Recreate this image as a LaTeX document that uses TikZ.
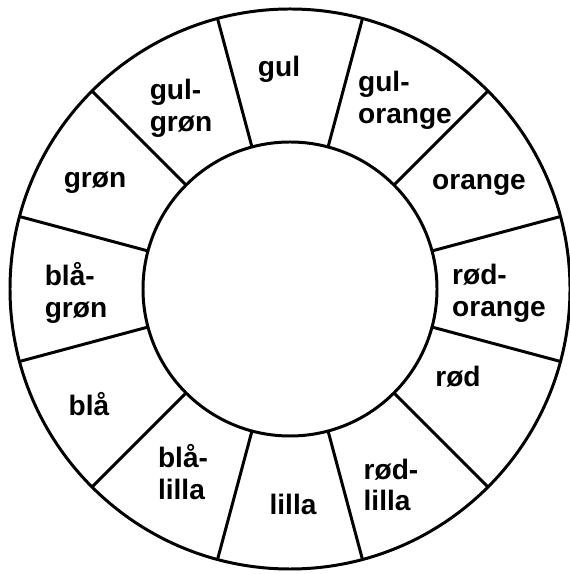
\documentclass[tikz,border=0pt]{standalone}
\usepackage{fontspec}
\setmainfont{Liberation Sans}

\begin{document}
\begin{tikzpicture}[x=0.02cm,y=0.02cm,
    wheel/.style={line width=1.7pt},
    colname/.style={font=\fontsize{16}{18}\selectfont\bfseries,
      align=left,inner sep=0pt}]
    \useasboundingbox (0,0) rectangle (569,574);
    \coordinate (c) at (290,285);
    \draw[wheel] (c) circle (280);
    \draw[wheel] (c) circle (147);
    \foreach \a in {15,45,...,345}
      \draw[wheel,shift={(c)}] (\a:147) -- (\a:280);
    \node[colname] (gul) at (279,505) {gul};
    \node[colname] (gulorange) at (405,474) {gul-\\orange};
    \node[colname] (orange) at (479,389) {orange};
    \node[colname] (rodorange) at (499,281) {rød-\\orange};
    \node[colname] (rod) at (458,197) {rød};
    \node[colname] (rodlilla) at (391,89) {rød-\\lilla};
    \node[colname] (lilla) at (293,70) {lilla};
    \node[colname] (blalilla) at (183,102) {blå-\\lilla};
    \node[colname] (bla) at (89,170) {blå};
    \node[colname] (blagron) at (76,281) {blå-\\grøn};
    \node[colname] (gron) at (95,391) {grøn};
    \node[colname] (gulgron) at (181,466) {gul-\\grøn};
  \end{tikzpicture}
\end{document}
